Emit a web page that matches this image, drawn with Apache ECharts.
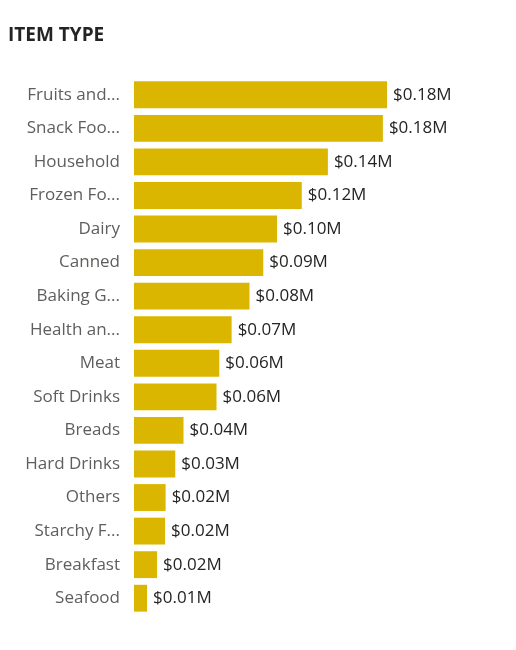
<!DOCTYPE html>
<html>
<head>
<meta charset="utf-8">
<script src="https://cdn.jsdelivr.net/npm/echarts@6/dist/echarts.min.js"></script>
<style>
  html, body { margin: 0; padding: 0; background: #fff; }
  #chart { width: 516px; height: 650px; }
</style>
</head>
<body>
<div id="chart"></div>
<script>
// item types, top to bottom, as shown (long names cut by the visual)
var itemTypes = ['Fruits and...', 'Snack Foo...', 'Household', 'Frozen Fo...', 'Dairy',
    'Canned', 'Baking G...', 'Health an...', 'Meat', 'Soft Drinks', 'Breads',
    'Hard Drinks', 'Others', 'Starchy F...', 'Breakfast', 'Seafood'];
// sales in $M
var sales = [0.184, 0.181, 0.141, 0.122, 0.104, 0.094, 0.084, 0.071, 0.062, 0.060, 0.036,
    0.030, 0.023, 0.0226, 0.0168, 0.0095];

var chart = echarts.init(document.getElementById('chart'));
var font = '"Open Sans", "Noto Sans", sans-serif';
var option = {
    animation: false,
    title: {
        text: 'ITEM TYPE',
        left: 8,
        top: 26,
        padding: 0,
        textStyle: { fontFamily: font, fontSize: 19, fontWeight: 'bold', color: '#252423' }
    },
    grid: {
        left: 134,
        right: 107,
        top: 78,
        bottom: 35
    },
    xAxis: {
        type: 'value',
        min: 0,
        max: 0.2,
        show: false
    },
    yAxis: {
        type: 'category',
        inverse: true,
        data: itemTypes,
        axisLine: { show: false },
        axisTick: { show: false },
        axisLabel: {
            margin: 14,
            fontFamily: font,
            fontSize: 17,
            color: '#605E5C'
        }
    },
    series: [{
        type: 'bar',
        data: sales,
        barCategoryGap: '20%',
        itemStyle: { color: '#DAB600' },
        label: {
            show: true,
            position: 'right',
            distance: 6,
            fontFamily: font,
            fontSize: 17,
            color: '#252423',
            formatter: function (p) {
                return '$' + p.value.toFixed(2) + 'M';
            }
        }
    }]
};
chart.setOption(option);
</script>
</body>
</html>
